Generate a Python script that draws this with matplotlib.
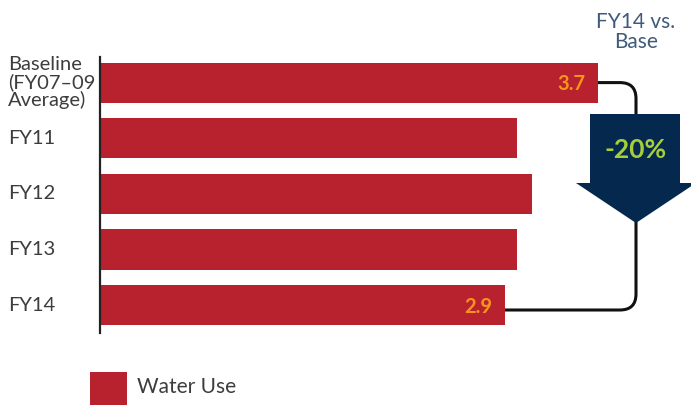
import matplotlib
matplotlib.use("Agg")
import matplotlib.pyplot as plt
import numpy as np
from matplotlib.path import Path
from matplotlib.patches import PathPatch, Polygon, Rectangle

# data
categories = ["Baseline\n(FY07\u201309\nAverage)", "FY11", "FY12", "FY13", "FY14"]
water_use = [3.7, 3.0, 3.13, 3.0, 2.9]
value_labels = {0: "3.7", 4: "2.9"}
change_label = "-20%"
change_title = "FY14 vs.\nBase"
legend_label = "Water Use"

BAR = "#b8222f"
NAVY = "#05284e"
LIME = "#a6ce39"
ORANGE = "#f7941d"
TEXT = "#3d3d3d"
W, H = 691, 405
ORIGIN = -0.584  # value at the axis line

plt.rcParams["font.family"] = ["Lato", "DejaVu Sans"]

fig = plt.figure(figsize=(W / 100, H / 100), dpi=100)
ax = fig.add_axes([100 / W, 1 - 333 / H, 591 / W, 276 / H])
ax.patch.set_visible(False)
y = np.arange(len(categories))
vals = np.array(water_use)
ax.barh(y, vals - ORIGIN, left=ORIGIN, height=0.72, color=BAR, zorder=2)
ax.set_xlim(ORIGIN, 4.5)
ax.set_ylim(4.5, -0.46)
for s in ("top", "right", "bottom"):
    ax.spines[s].set_visible(False)
ax.spines["left"].set_color("#222222")
ax.spines["left"].set_linewidth(1.6)
ax.set_xticks([])
ax.set_yticks([])

for i, lab in value_labels.items():
    ax.text(vals[i] - 0.11, y[i] + 0.03, lab, ha="right", va="center",
            color=ORANGE, fontsize=14.5, fontweight="bold", zorder=3)

# category labels, left-aligned in the margin
for i, lab in enumerate(categories):
    yp = ax.transData.transform((0, y[i]))[1] / (H)
    fig.text(8 / W, yp, lab, ha="left", va="center", fontsize=14.5,
             color=TEXT, linespacing=0.98)

# overlay in pixel coordinates for connector + arrow
ov = fig.add_axes([0, 0, 1, 1], zorder=3)
ov.set_xlim(0, W)
ov.set_ylim(H, 0)
ov.axis("off")


def px(xv, yv):
    dx, dy = ax.transData.transform((xv, yv))
    return dx, H - dy


cx = 636
r = 16
x0, y0 = px(vals[0], y[0])
x4, _ = px(vals[4], y[4])
y4 = 310
top = Path([(x0, y0), (cx - r, y0), (cx, y0), (cx, y0 + r), (cx, 120)],
           [Path.MOVETO, Path.LINETO, Path.CURVE3, Path.CURVE3, Path.LINETO])
bot = Path([(cx, 220), (cx, y4 - r), (cx, y4), (cx - r, y4), (x4, y4)],
           [Path.MOVETO, Path.LINETO, Path.CURVE3, Path.CURVE3, Path.LINETO])
for p in (top, bot):
    ov.add_patch(PathPatch(p, fc="none", ec="#111111", lw=2.2))

ov.add_patch(Polygon([(590, 114), (680, 114), (680, 183), (696, 183),
                      (cx, 223), (576, 183), (590, 183)],
                     closed=True, fc=NAVY, ec="none", zorder=3))
ov.text(cx, 150, change_label, ha="center", va="center", color=LIME,
        fontsize=19, fontweight="bold", zorder=4)
ov.text(cx, 32, change_title, ha="center", va="center", color="#3f5b7c",
        fontsize=15, linespacing=1.05)

# legend
ov.add_patch(Rectangle((90, 372), 37, 34, fc=BAR, ec="none"))
ov.text(137, 387, legend_label, ha="left", va="center", color=TEXT,
        fontsize=15)

fig.savefig("out.png", dpi=100)
